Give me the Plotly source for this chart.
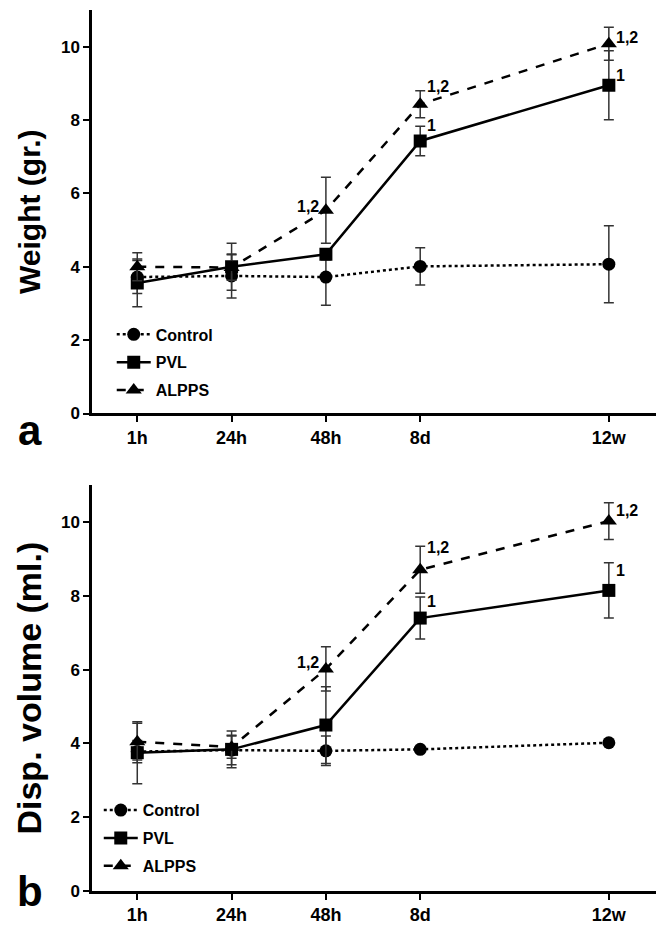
import plotly.graph_objects as go

# ---------------- data ----------------
timepoints = ["1h", "24h", "48h", "8d", "12w"]
x_pos = [0, 1, 2, 3, 5]
groups = ["Control", "PVL", "ALPPS"]

# Panel a: weight (gr.)
w_control = [3.72, 3.75, 3.72, 4.01, 4.07]
w_control_err = [0.45, 0.6, 0.77, 0.51, 1.05]
w_pvl = [3.56, 4.0, 4.34, 7.43, 8.95]
w_pvl_err = [0.65, 0.64, 0.15, 0.40, 0.94]
w_alpps = [4.0, 3.98, 5.54, 8.43, 10.08]
w_alpps_err = [0.38, 0.35, 0.9, 0.37, 0.45]

# Panel b: displacement volume (ml.)
v_control = [3.78, 3.82, 3.80, 3.84, 4.02]
v_control_err = [0.3, 0.4, 0.4, 0.0, 0.0]
v_pvl = [3.75, 3.84, 4.50, 7.40, 8.15]
v_pvl_err = [0.84, 0.5, 1.04, 0.57, 0.75]
v_alpps = [4.05, 3.90, 6.02, 8.71, 10.03]
v_alpps_err = [0.5, 0.3, 0.6, 0.64, 0.5]

# significance labels: (group, time index, text)
sig_a = [("ALPPS", 2, "1,2"), ("ALPPS", 3, "1,2"), ("PVL", 3, "1"),
         ("ALPPS", 4, "1,2"), ("PVL", 4, "1")]
sig_b = [("ALPPS", 2, "1,2"), ("ALPPS", 3, "1,2"), ("PVL", 3, "1"),
         ("ALPPS", 4, "1,2"), ("PVL", 4, "1")]

# ---------------- styles ----------------
style = {
    "Control": dict(dash="dot", symbol="circle", size=13),
    "PVL": dict(dash="solid", symbol="square", size=13),
    "ALPPS": dict(dash="dash", symbol="triangle-up", size=14),
}
FONT = "Liberation Sans, Arial, sans-serif"

fig = go.Figure()

panels = [
    ("x", "y", "legend", {"Control": (w_control, w_control_err), "PVL": (w_pvl, w_pvl_err), "ALPPS": (w_alpps, w_alpps_err)}),
    ("x2", "y2", "legend2", {"Control": (v_control, v_control_err), "PVL": (v_pvl, v_pvl_err), "ALPPS": (v_alpps, v_alpps_err)}),
]

for xa, ya, leg, data in panels:
    for g in groups:
        vals, errs = data[g]
        st = style[g]
        fig.add_trace(go.Scatter(
            x=x_pos, y=vals, xaxis=xa, yaxis=ya, name=g, legend=leg,
            legendgroup=leg + g,
            mode="lines+markers",
            line=dict(color="black", width=2.5, dash=st["dash"]),
            marker=dict(symbol=st["symbol"], size=st["size"], color="black"),
            error_y=dict(type="data", array=errs, visible=True, color="#333333", thickness=1.5, width=5),
        ))

annotations = []
def add_sig(sig, xa, ya, data, shifts):
    for (g, i, txt), ys in zip(sig, shifts):
        vals = data[g][0]
        if i == 2:
            annotations.append(dict(x=x_pos[i], y=vals[i], xref=xa, yref=ya, text=f"<b>{txt}</b>",
                                    showarrow=False, xanchor="right", yanchor="middle", xshift=-5, yshift=ys,
                                    font=dict(family=FONT, size=16, color="black")))
        else:
            annotations.append(dict(x=x_pos[i], y=vals[i], xref=xa, yref=ya, text=f"<b>{txt}</b>",
                                    showarrow=False, xanchor="left", yanchor="middle", xshift=5, yshift=ys,
                                    font=dict(family=FONT, size=16, color="black")))

add_sig(sig_a, "x", "y", panels[0][3], [4, 18, 15, 6, 10])
add_sig(sig_b, "x2", "y2", panels[1][3], [6, 22, 17, 11, 20])

annotations.append(dict(x=-0.11, y=0.523, xref="paper", yref="paper", text="<b>a</b>", showarrow=False,
                        xanchor="center", yanchor="middle", font=dict(family=FONT, size=42, color="black")))
annotations.append(dict(x=-0.11, y=0.0, xref="paper", yref="paper", text="<b>b</b>", showarrow=False,
                        xanchor="center", yanchor="middle", font=dict(family=FONT, size=42, color="black")))

xaxis_common = dict(range=[-0.48, 5.5], tickvals=x_pos, ticktext=timepoints, showline=True, linecolor="black",
                    linewidth=2.5, ticks="outside", ticklen=6, tickwidth=2, tickcolor="black",
                    showgrid=False, zeroline=False,
                    tickfont=dict(family=FONT, size=18, color="black", weight="bold"))
yaxis_common = dict(range=[0, 11], tickvals=[0, 2, 4, 6, 8, 10], showline=True, linecolor="black",
                    linewidth=2.5, ticks="outside", ticklen=6, tickwidth=2, tickcolor="black",
                    showgrid=False, zeroline=False,
                    tickfont=dict(family=FONT, size=17, color="black", weight="bold"))

fig.update_layout(
    width=666, height=929,
    margin=dict(l=84, r=18, t=2, b=46),
    paper_bgcolor="white", plot_bgcolor="white",
    font=dict(family=FONT, color="black"),
    xaxis=dict(**xaxis_common, domain=[0, 1], anchor="y"),
    yaxis=dict(**yaxis_common, domain=[0.542, 1], anchor="x",
               title=dict(text="Weight (gr.)", standoff=12,
                          font=dict(family=FONT, size=30, color="black", weight="bold"))),
    xaxis2=dict(**xaxis_common, domain=[0, 1], anchor="y2"),
    yaxis2=dict(**yaxis_common, domain=[0, 0.4605], anchor="x2",
                title=dict(text="Disp. volume (ml.)", standoff=10,
                           font=dict(family=FONT, size=34, color="black", weight="bold"))),
    legend=dict(x=0.035, y=0.651, xanchor="left", yanchor="top", bgcolor="rgba(0,0,0,0)",
                tracegroupgap=4, itemwidth=34,
                font=dict(family=FONT, size=16, color="black", weight="bold")),
    legend2=dict(x=0.012, y=0.111, xanchor="left", yanchor="top", bgcolor="rgba(0,0,0,0)",
                 tracegroupgap=4, itemwidth=34,
                 font=dict(family=FONT, size=16, color="black", weight="bold")),
    annotations=annotations,
    showlegend=True,
)

fig.write_html("out.html")
